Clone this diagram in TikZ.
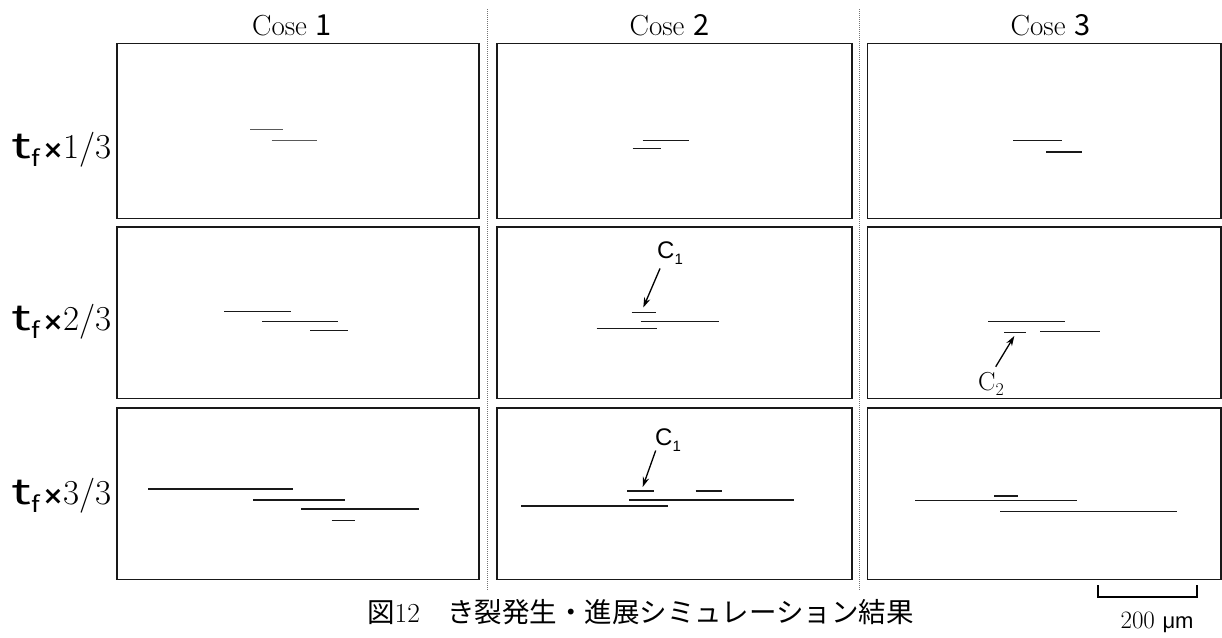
\documentclass[tikz,border=0pt]{standalone}
\usepackage{fontspec}
\newfontfamily\jp{Noto Sans CJK JP}
\newfontfamily\arial{Liberation Sans}
\newfontfamily\dv{DejaVu Sans}
\usetikzlibrary{arrows.meta}
\newcommand\rowlab[1]{{\jp\fontsize{35}{35}\selectfont\scalebox{1.5}[1]{t}}\raisebox{-8pt}{\jp\fontsize{22}{22}\selectfont\scalebox{1.2}[1]{f}}\hspace{3pt}{\dv\bfseries\fontsize{25}{25}\selectfont ×}{\fontsize{35}{35}\selectfont #1/3}}
\newcommand\casetxt[1]{{\fontsize{29}{29}\selectfont Cose {\jp #1}}}
\begin{document}
\begin{tikzpicture}[x=1pt,y=-1pt,
  panel/.style={draw=black!90, line width=1.6pt, inner sep=0pt, minimum width=#1},
  crack/.style={line width=1.5pt, black!90},
  gcrack/.style={line width=1.1pt, black!65},
  sep/.style={line width=0.8pt, black!55, dash pattern=on 1pt off 1pt},
  arr/.style={line width=1.3pt, -{Stealth[length=10pt,width=6.5pt]}},
  sanslab/.style={font=\arial\fontsize{24}{24}\selectfont, inner sep=0pt},
  hdr/.style={anchor=base, inner sep=0pt},
  rlab/.style={anchor=base east, inner sep=0pt}]
\useasboundingbox (0,0) rectangle (1222,637);
% panels
\node[panel=362.3pt, minimum height=175pt] (p11) at (297.85,130.8) {};
\node[panel=355pt, minimum height=175pt] (p12) at (674.2,130.8) {};
\node[panel=353.5pt, minimum height=175pt] (p13) at (1044.05,130.8) {};
\node[panel=362.3pt, minimum height=171.6pt] (p21) at (297.85,312.5) {};
\node[panel=355pt, minimum height=171.6pt] (p22) at (674.2,312.5) {};
\node[panel=353.5pt, minimum height=171.6pt] (p23) at (1044.05,312.5) {};
\node[panel=362.3pt, minimum height=171.6pt] (p31) at (297.85,493.5) {};
\node[panel=355pt, minimum height=171.6pt] (p32) at (674.2,493.5) {};
\node[panel=353.5pt, minimum height=171.6pt] (p33) at (1044.05,493.5) {};
% separators
\coordinate (d1t) at (487.7,9); \coordinate (d1b) at (487.7,590);
\coordinate (d2t) at (859,9); \coordinate (d2b) at (859,590);
\draw[sep] (d1t) -- (d1b);
\draw[sep] (d2t) -- (d2b);
% headers
\node[hdr] (h1) at (292,35) {\casetxt{1}};
\node[hdr] (h2) at (669.5,35) {\casetxt{2}};
\node[hdr] (h3) at (1050.5,35) {\casetxt{3}};
% row labels
\node[rlab] (r1) at (112,158) {\rowlab{1}};
\node[rlab] (r2) at (112,330) {\rowlab{2}};
\node[rlab] (r3) at (112,504) {\rowlab{3}};
% row 1 cracks
\draw[gcrack] (250,129.3) -- (282.7,129.3);
\draw[gcrack] (271.7,140.7) -- (316.7,140.7);
\draw[crack] (642.7,140.7) -- (689,140.7);
\draw[crack] (632.7,148.3) -- (661,148.3);
\draw[crack] (1013.3,140.7) -- (1061.7,140.7);
\draw[crack] (1046,152) -- (1082,152);
% row 2 cracks
\draw[crack] (224.3,311.3) -- (291,311.3);
\draw[crack] (262.3,321.7) -- (338.3,321.7);
\draw[crack] (310,330.7) -- (348.3,330.7);
\draw[crack] (631.7,312.7) -- (656,312.7);
\draw[crack] (640.7,321.3) -- (719,321.3);
\draw[crack] (596.7,328.7) -- (656.7,328.7);
\draw[crack] (988.3,321.3) -- (1065,321.3);
\draw[crack] (1004.3,332.7) -- (1026,332.7);
\draw[crack] (1040,331.3) -- (1100,331.3);
% row 3 cracks
\draw[crack] (148.3,489) -- (293.3,489);
\draw[crack] (253.3,500) -- (345,500);
\draw[crack] (301,509) -- (419.3,509);
\draw[crack] (331.7,520.7) -- (355,520.7);
\draw[crack] (627.3,491) -- (654,491);
\draw[crack] (695.7,491) -- (722.3,491);
\draw[crack] (629.3,500) -- (794.3,500);
\draw[crack] (521,506) -- (667.7,506);
\draw[crack] (994.3,496) -- (1018.3,496);
\draw[crack] (915,500.3) -- (1077.3,500.3);
\draw[crack] (1000,511.7) -- (1176.7,511.7);
% C1 labels and arrows
\node[sanslab] (c1a) at (670,253) {C\raisebox{-6pt}{\fontsize{15}{15}\selectfont 1}};
\coordinate (a1s) at (660,268.5); \coordinate (a1e) at (643.3,307.5);
\draw[arr] (a1s) -- (a1e);
\node[sanslab] (c1b) at (668,440) {C\raisebox{-6pt}{\fontsize{15}{15}\selectfont 1}};
\coordinate (a3s) at (655.7,450.5); \coordinate (a3e) at (642.7,487);
\draw[arr] (a3s) -- (a3e);
% C2 label and arrow
\node[anchor=base west, inner sep=0pt] (c2) at (978,390) {\fontsize{26}{26}\selectfont C\raisebox{-5pt}{\fontsize{18}{18}\selectfont 2}};
\coordinate (a2s) at (995.7,366.7); \coordinate (a2e) at (1014.3,336);
\draw[arr] (a2s) -- (a2e);
% caption
\node[anchor=base west, inner sep=0pt] (cap) at (367,622) {\jp\fontsize{27.5}{27.5}\selectfont 図{\rmfamily 12}　き裂発生・進展シミュレーション結果};
% scale bar
\coordinate (sb1) at (1098,585); \coordinate (sb2) at (1098,597);
\coordinate (sb3) at (1197,597); \coordinate (sb4) at (1197,585);
\draw[line width=1.3pt] (sb1) -- (sb2) -- (sb3) -- (sb4);
\node[anchor=base, inner sep=0pt] (sbt) at (1157,628) {\fontsize{25}{25}\selectfont 200 {\arial\fontsize{22}{22}\selectfont μm}};
\end{tikzpicture}
\end{document}
